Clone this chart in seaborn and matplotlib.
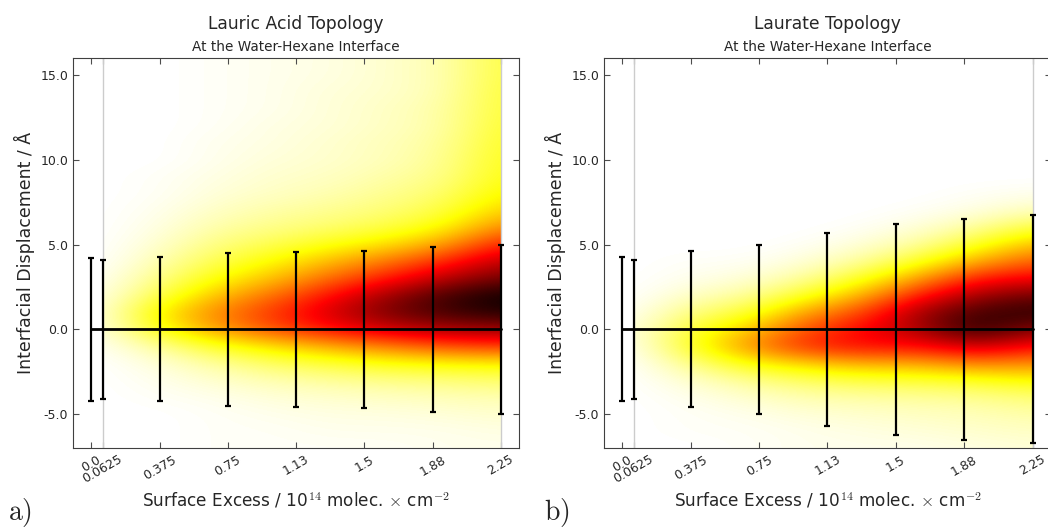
import numpy as np
import matplotlib
matplotlib.use("Agg")
import matplotlib.pyplot as plt
from matplotlib.patches import Rectangle
import seaborn as sns

# surface excess values (10^14 molec / cm^2) and their tick labels
surface_excess = [0.0, 0.0625, 0.375, 0.75, 1.125, 1.5, 1.875, 2.25]
tick_labels = ["0.0", "0.0625", "0.375", "0.75", "1.13", "1.5", "1.88", "2.25"]
y_ticks = [-5.0, 0.0, 5.0, 10.0, 15.0]

# mean interfacial displacement and spread for each topology
acid_mean = [0.0, 0.0, 0.0, 0.0, 0.0, 0.0, 0.0, 0.0]
acid_err = [4.2, 4.1, 4.25, 4.5, 4.57, 4.62, 4.85, 5.0]
laurate_mean = [0.0, 0.0, 0.0, 0.0, 0.0, 0.0, 0.0, 0.0]
laurate_err = [4.25, 4.12, 4.6, 4.98, 5.68, 6.22, 6.51, 6.73]

# density map sampled at these positions (columns = surface excess, rows = displacement)
dens_x = [0.0625, 0.375, 0.6875, 1.0, 1.3125, 1.625, 1.9375, 2.25]
dens_y = [-7, -6, -5, -4, -3, -2, -1, 0, 1, 2, 3, 4, 5, 6, 7, 8, 9, 10, 11, 12, 13, 14, 15, 16]

acid_density = [
    [0.00, 0.00, 0.01, 0.01, 0.01, 0.01, 0.02, 0.02],
    [0.00, 0.00, 0.01, 0.01, 0.02, 0.02, 0.02, 0.03],
    [0.00, 0.00, 0.01, 0.02, 0.03, 0.03, 0.04, 0.05],
    [0.00, 0.01, 0.02, 0.04, 0.05, 0.06, 0.07, 0.08],
    [0.00, 0.02, 0.05, 0.08, 0.10, 0.12, 0.13, 0.15],
    [0.00, 0.04, 0.10, 0.16, 0.20, 0.24, 0.26, 0.27],
    [0.01, 0.10, 0.22, 0.30, 0.38, 0.45, 0.52, 0.55],
    [0.02, 0.24, 0.40, 0.52, 0.62, 0.70, 0.76, 0.78],
    [0.03, 0.28, 0.44, 0.56, 0.70, 0.84, 0.92, 0.97],
    [0.02, 0.18, 0.35, 0.47, 0.62, 0.78, 0.92, 1.00],
    [0.01, 0.12, 0.25, 0.35, 0.48, 0.60, 0.74, 0.85],
    [0.00, 0.08, 0.18, 0.26, 0.36, 0.46, 0.58, 0.74],
    [0.00, 0.05, 0.13, 0.18, 0.24, 0.30, 0.40, 0.60],
    [0.00, 0.03, 0.09, 0.12, 0.15, 0.19, 0.26, 0.44],
    [0.00, 0.02, 0.06, 0.09, 0.11, 0.14, 0.19, 0.33],
    [0.00, 0.01, 0.04, 0.06, 0.08, 0.11, 0.15, 0.27],
    [0.00, 0.01, 0.03, 0.05, 0.06, 0.09, 0.12, 0.24],
    [0.00, 0.00, 0.02, 0.04, 0.05, 0.07, 0.11, 0.23],
    [0.00, 0.00, 0.02, 0.03, 0.05, 0.07, 0.10, 0.22],
    [0.00, 0.00, 0.01, 0.03, 0.04, 0.06, 0.09, 0.21],
    [0.00, 0.00, 0.01, 0.02, 0.04, 0.06, 0.09, 0.20],
    [0.00, 0.00, 0.01, 0.02, 0.04, 0.05, 0.08, 0.20],
    [0.00, 0.00, 0.01, 0.02, 0.03, 0.05, 0.08, 0.19],
    [0.00, 0.00, 0.01, 0.02, 0.03, 0.05, 0.08, 0.19],
]

laurate_density = [
    [0.00, 0.00, 0.01, 0.02, 0.02, 0.02, 0.03, 0.04],
    [0.00, 0.01, 0.01, 0.02, 0.03, 0.04, 0.05, 0.06],
    [0.00, 0.01, 0.02, 0.04, 0.05, 0.06, 0.07, 0.09],
    [0.00, 0.02, 0.05, 0.08, 0.09, 0.10, 0.11, 0.14],
    [0.00, 0.05, 0.11, 0.16, 0.19, 0.20, 0.22, 0.26],
    [0.00, 0.12, 0.25, 0.32, 0.38, 0.38, 0.45, 0.42],
    [0.01, 0.22, 0.42, 0.58, 0.63, 0.62, 0.72, 0.62],
    [0.02, 0.20, 0.33, 0.52, 0.64, 0.76, 0.97, 0.80],
    [0.01, 0.13, 0.20, 0.40, 0.53, 0.78, 0.92, 0.95],
    [0.00, 0.06, 0.10, 0.22, 0.37, 0.60, 0.78, 0.85],
    [0.00, 0.02, 0.04, 0.10, 0.22, 0.40, 0.60, 0.65],
    [0.00, 0.01, 0.01, 0.04, 0.10, 0.22, 0.38, 0.50],
    [0.00, 0.00, 0.00, 0.01, 0.04, 0.10, 0.22, 0.36],
    [0.00, 0.00, 0.00, 0.00, 0.01, 0.04, 0.10, 0.20],
    [0.00, 0.00, 0.00, 0.00, 0.00, 0.01, 0.03, 0.07],
    [0.00, 0.00, 0.00, 0.00, 0.00, 0.00, 0.01, 0.02],
    [0.00, 0.00, 0.00, 0.00, 0.00, 0.00, 0.00, 0.00],
    [0.00, 0.00, 0.00, 0.00, 0.00, 0.00, 0.00, 0.00],
    [0.00, 0.00, 0.00, 0.00, 0.00, 0.00, 0.00, 0.00],
    [0.00, 0.00, 0.00, 0.00, 0.00, 0.00, 0.00, 0.00],
    [0.00, 0.00, 0.00, 0.00, 0.00, 0.00, 0.00, 0.00],
    [0.00, 0.00, 0.00, 0.00, 0.00, 0.00, 0.00, 0.00],
    [0.00, 0.00, 0.00, 0.00, 0.00, 0.00, 0.00, 0.00],
    [0.00, 0.00, 0.00, 0.00, 0.00, 0.00, 0.00, 0.00],
]

sns.set_style("white", rc={
    "xtick.direction": "in", "ytick.direction": "in",
    "xtick.top": True, "ytick.right": True,
    "xtick.bottom": True, "ytick.left": True,
    "axes.edgecolor": "0.25",
})
plt.rcParams["font.family"] = ["DejaVu Sans"]
plt.rcParams["mathtext.fontset"] = "cm"

fig = plt.figure(figsize=(10.48, 5.29), dpi=100)
ax_a = fig.add_axes([0.0697, 0.153, 0.4256, 0.737])
ax_b = fig.add_axes([0.5763, 0.153, 0.4265, 0.737])

Y_LO, Y_HI = -7, 16


def draw_panel(ax, density, mean, err, title):
    dx = dens_x[1] - dens_x[0]
    dy = dens_y[1] - dens_y[0]
    im = ax.imshow(np.array(density), origin="lower", aspect="auto",
                   extent=[dens_x[0] - dx / 2, dens_x[-1] + dx / 2,
                           dens_y[0] - dy / 2, dens_y[-1] + dy / 2],
                   cmap="hot_r", vmin=0, vmax=1, interpolation="bicubic", zorder=0)
    # only show the map between the first and last sampled surface excess
    clip = Rectangle((dens_x[0], Y_LO), dens_x[-1] - dens_x[0], Y_HI - Y_LO,
                     transform=ax.transData)
    im.set_clip_path(clip)

    for xv in (dens_x[0], dens_x[-1]):
        ax.axvline(xv, color="0.8", lw=1, zorder=1)

    sns.lineplot(x=surface_excess, y=mean, color="black", lw=2, ax=ax, zorder=3)
    ax.errorbar(surface_excess, mean, yerr=err, fmt="none", ecolor="black",
                elinewidth=1.6, capsize=2, capthick=1.6, zorder=3)

    ax.set_xlim(-0.1, 2.35)
    ax.set_ylim(Y_LO, Y_HI)
    ax.set_xticks(surface_excess)
    ax.set_xticklabels(tick_labels, rotation=30, fontsize=9)
    ax.set_yticks(y_ticks)
    ax.set_yticklabels(["%.1f" % v for v in y_ticks], fontsize=9)
    ax.tick_params(length=4, width=0.8, color="0.3")
    ax.set_xlabel(r"Surface Excess / 10$^{14}$ molec. $\times$ cm$^{-2}$",
                  fontsize=12.2, labelpad=3)
    ax.set_ylabel("Interfacial Displacement / Å", fontsize=12.5, labelpad=4)
    ax.set_title("At the Water-Hexane Interface", fontsize=9.8, pad=5)
    ax.text(0.5, 1.087, title, transform=ax.transAxes, ha="center", va="center",
            fontsize=12.3)


draw_panel(ax_a, acid_density, acid_mean, acid_err, "Lauric Acid Topology")
draw_panel(ax_b, laurate_density, laurate_mean, laurate_err, "Laurate Topology")

fig.text(0.008, 0.0, r"$\mathrm{a)}$", fontsize=20, ha="left", va="bottom")
fig.text(0.519, 0.0, r"$\mathrm{b)}$", fontsize=20, ha="left", va="bottom")

fig.savefig("out.png", dpi=100)
